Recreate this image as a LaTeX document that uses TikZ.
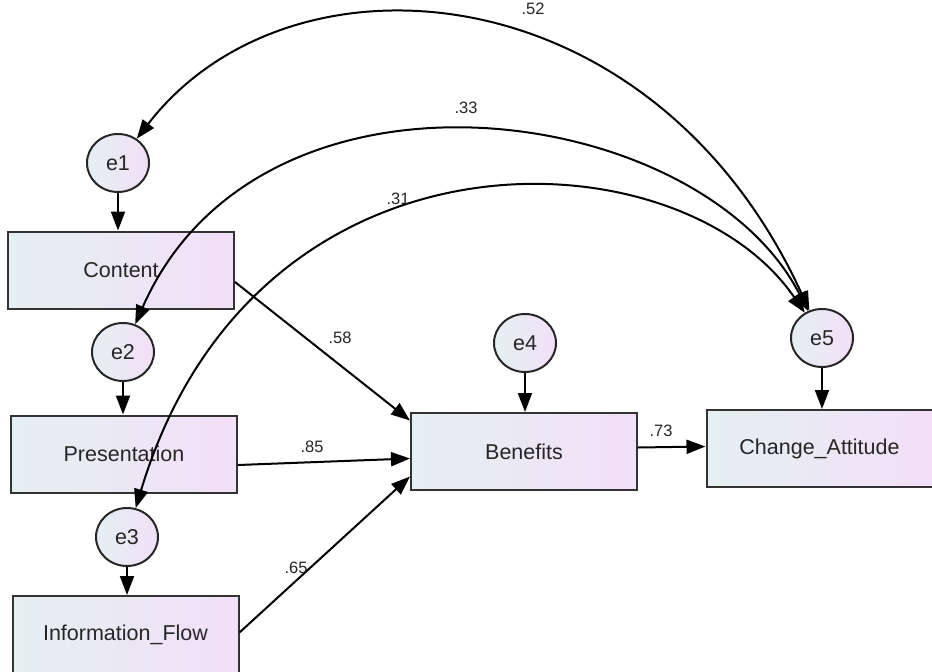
\documentclass[tikz,border=0pt]{standalone}
\usepackage{fontspec}
\setmainfont{Liberation Sans}
\usetikzlibrary{arrows.meta,shapes.geometric}
\definecolor{lc}{RGB}{228,240,242}
\definecolor{rc}{RGB}{243,223,248}
\begin{document}
\begin{tikzpicture}[x=1pt,y=-1pt,
  var/.style={draw=black!80, line width=2pt, left color=lc, right color=rc,
    minimum width=226pt, minimum height=77pt, inner sep=0pt,
    font=\fontsize{21.5}{25}\selectfont, text=black!85},
  err/.style={ellipse, draw=black!85, line width=2pt, left color=lc, right color=rc,
    minimum width=62pt, minimum height=58pt, inner sep=0pt,
    font=\fontsize{21.5}{25}\selectfont, text=black!85},
  tip/.tip={Triangle[length=19pt,width=14pt]},
  arr/.style={line width=2pt, -tip},
  dbl/.style={line width=2pt, tip-tip},
  lab/.style={font=\fontsize{16.5}{19}\selectfont, text=black!85, inner sep=1pt}]
\useasboundingbox (0,0) rectangle (932,672);
\node[var] (cont) at (121,270) {Content};
\node[var] (pres) at (124,454) {Presentation};
\node[var] (info) at (125.5,634.5) {Information\_Flow};
\node[var] (ben) at (524,451.5) {Benefits};
\node[var] (chg) at (819.5,448.5) {Change\_Attitude};
\node[err] (e1) at (118,163) {e1};
\node[err] (e2) at (123,352) {e2};
\node[err] (e3) at (127,537) {e3};
\node[err] (e4) at (525,343) {e4};
\node[err] (e5) at (822,338) {e5};
% error arrows
\draw[arr] (e1) -- (e1 |- cont.north);
\draw[arr] (e2) -- (e2 |- pres.north);
\draw[arr] (e3) -- (e3 |- info.north);
\draw[arr] (e4) -- (e4 |- ben.north);
\draw[arr] (e5) -- (e5 |- chg.north);
% paths
\draw[arr] ([yshift=-12pt]cont.east) -- ([yshift=31pt]ben.west);
\draw[arr] ([yshift=-11pt]pres.east) -- ([yshift=-7pt]ben.west);
\draw[arr] ([yshift=2pt]info.east) -- ([yshift=-25pt]ben.west);
\draw[arr] ([yshift=4pt]ben.east) -- ([yshift=2pt]chg.west);
% covariances
\draw[dbl] (e5) .. controls (652,-32) and (290,-60) .. (e1);
\draw[dbl] (e5) .. controls (700,100) and (260,40) .. (e2);
\draw[dbl] (e5) .. controls (680,130) and (255,112) .. (e3);
% labels
\node[lab] (l58) at (340,338) {.58};
\node[lab] (l85) at (312,447) {.85};
\node[lab] (l65) at (296,568) {.65};
\node[lab] (l73) at (661,431) {.73};
\node[lab] (l52) at (533,9) {.52};
\node[lab] (l33) at (466,108) {.33};
\node[lab] (l31) at (398,199) {.31};
\end{tikzpicture}
\end{document}
